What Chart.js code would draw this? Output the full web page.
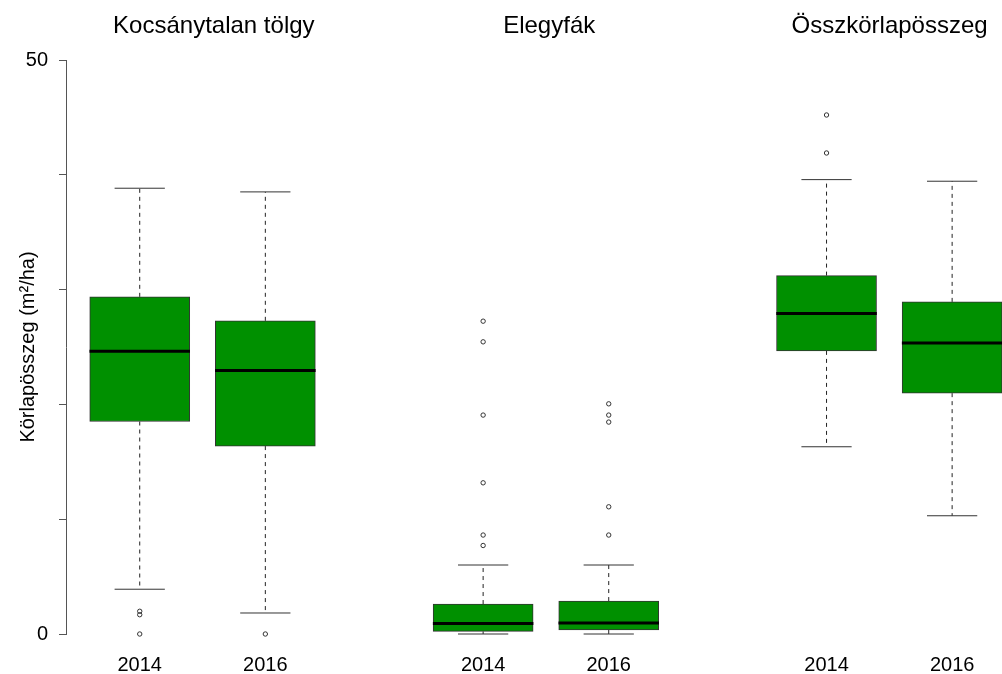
<!DOCTYPE html>
<html>
<head>
<meta charset="utf-8">
<script src="https://cdn.jsdelivr.net/npm/chart.js@4/dist/chart.umd.min.js"></script>
<style>
  html, body { margin: 0; padding: 0; background: #fff; }
</style>
</head>
<body>
<canvas id="myChart" width="1002" height="674"></canvas>
<script>
var ctx = document.getElementById('myChart');

var groupNames = ['Kocsánytalan tölgy', 'Elegyfák', 'Összkörlapösszeg'];
var yearLabels = ['2014', '2016', '2014', '2016', '2014', '2016'];

var lowerWhisker  = [3.9, 1.83, 0, 0, 16.31, 10.3];
var firstQuartile = [18.51, 16.37, 0.23, 0.35, 24.66, 20.98];
var medians       = [24.64, 22.95, 0.92, 0.96, 27.91, 25.34];
var thirdQuartile = [29.37, 27.28, 2.61, 2.87, 31.22, 28.93];
var upperWhisker  = [38.83, 38.51, 6.01, 6.01, 39.58, 39.44];
var outliers = [
  [1.98, 1.68, 0],
  [0],
  [27.25, 25.45, 19.07, 13.17, 8.62, 7.71],
  [20.05, 19.07, 18.46, 11.08, 8.62],
  [45.21, 41.9],
  []
];

var yLabelledTicks = [0, 50];

// layout on the x axis (box units)
const YEAR_STEP = 1;
const GROUP_STEP = 2.734;
const BOX_HALF = 0.4;
const CAP_HALF = 0.2;
const X_MIN = 0.413;
const X_MAX = 7.865;
var titleAt = [1.59, 4.26, 6.97];

function boxPos(i){
  return 1 + Math.floor(i / 2) * GROUP_STEP + (i % 2) * YEAR_STEP;
}

var boxes = [];
var whiskers = [];
var caps = [];
var medianLines = [];
var outlierPoints = [];

function buildSeries(){
  yearLabels.forEach((_, i) => {
    var p = boxPos(i);
    boxes.push({x: p, y: [firstQuartile[i], thirdQuartile[i]]});

    whiskers.push({x: p, y: thirdQuartile[i]}, {x: p, y: upperWhisker[i]}, {x: p, y: null});
    whiskers.push({x: p, y: firstQuartile[i]}, {x: p, y: lowerWhisker[i]}, {x: p, y: null});

    caps.push({x: p - CAP_HALF, y: upperWhisker[i]}, {x: p + CAP_HALF, y: upperWhisker[i]}, {x: p, y: null});
    caps.push({x: p - CAP_HALF, y: lowerWhisker[i]}, {x: p + CAP_HALF, y: lowerWhisker[i]}, {x: p, y: null});

    medianLines.push({x: p - BOX_HALF, y: medians[i]}, {x: p + BOX_HALF, y: medians[i]}, {x: p, y: null});

    outliers[i].forEach(v => outlierPoints.push({x: p, y: v}));
  });
}

// horizontal axes: fixed height, no extra side padding
function fitXAxis(height){
  return axis => {
    axis.height = height;
    axis.paddingLeft = 0;
    axis.paddingRight = 0;
  };
}

function loadChart(){
  buildSeries();

  Chart.defaults.font.family = "'Liberation Sans', Arial, Helvetica, sans-serif";
  Chart.defaults.color = '#000';

  new Chart(ctx, {
    type: 'bar',
    data: {
      datasets: [
        {
          type: 'line',
          data: medianLines,
          borderColor: '#000',
          borderWidth: 3,
          pointRadius: 0,
          spanGaps: false,
          clip: false,
          order: 0
        },
        {
          type: 'bar',
          data: boxes,
          backgroundColor: '#009000',
          borderColor: '#333',
          borderWidth: 1,
          borderSkipped: false,
          barThickness: 100,
          grouped: false,
          clip: false,
          order: 1
        },
        {
          type: 'line',
          data: caps,
          borderColor: '#333',
          borderWidth: 1,
          pointRadius: 0,
          spanGaps: false,
          clip: false,
          order: 2
        },
        {
          type: 'line',
          data: whiskers,
          borderColor: '#222',
          borderWidth: 1,
          borderDash: [4, 4],
          pointRadius: 0,
          spanGaps: false,
          clip: false,
          order: 3
        },
        {
          type: 'scatter',
          data: outlierPoints,
          pointStyle: 'circle',
          pointRadius: 2.2,
          pointBorderWidth: 1,
          pointBorderColor: '#333',
          pointBackgroundColor: 'rgba(0,0,0,0)',
          clip: false,
          order: 4
        }
      ]
    },
    options: {
      responsive: false,
      animation: false,
      layout: { padding: 0, autoPadding: false },
      plugins: {
        legend: { display: false },
        tooltip: { enabled: false }
      },
      scales: {
        x: {
          type: 'linear',
          position: 'bottom',
          min: X_MIN,
          max: X_MAX,
          offset: false,
          grid: { display: false, drawTicks: false, offset: false },
          border: { display: false },
          afterBuildTicks: axis => {
            axis.ticks = yearLabels.map((_, i) => ({value: boxPos(i)}));
          },
          afterFit: fitXAxis(40),
          ticks: {
            autoSkip: false,
            maxRotation: 0,
            minRotation: 0,
            padding: 19,
            font: { size: 20 },
            callback: (value, index) => yearLabels[index]
          }
        },
        xTop: {
          type: 'linear',
          position: 'top',
          min: X_MIN,
          max: X_MAX,
          offset: false,
          grid: { display: false, drawTicks: false },
          border: { display: false },
          afterBuildTicks: axis => {
            axis.ticks = titleAt.map(v => ({value: v}));
          },
          afterFit: fitXAxis(60),
          ticks: {
            autoSkip: false,
            maxRotation: 0,
            minRotation: 0,
            padding: 19,
            font: { size: 24 },
            callback: (value, index) => groupNames[index]
          }
        },
        y: {
          type: 'linear',
          min: 0,
          max: 50,
          afterFit: axis => { axis.width = 66; },
          grid: {
            drawOnChartArea: false,
            drawTicks: true,
            tickLength: 7,
            color: '#555'
          },
          border: { display: true, color: '#555', width: 1 },
          ticks: {
            stepSize: 10,
            padding: 11,
            font: { size: 20 },
            callback: value => yLabelledTicks.includes(value) ? value : ''
          },
          title: {
            display: true,
            text: 'Körlapösszeg (m²/ha)',
            font: { size: 20 },
            padding: { top: 16, bottom: 0 }
          }
        }
      }
    }
  });
}

loadChart();
</script>
</body>
</html>
